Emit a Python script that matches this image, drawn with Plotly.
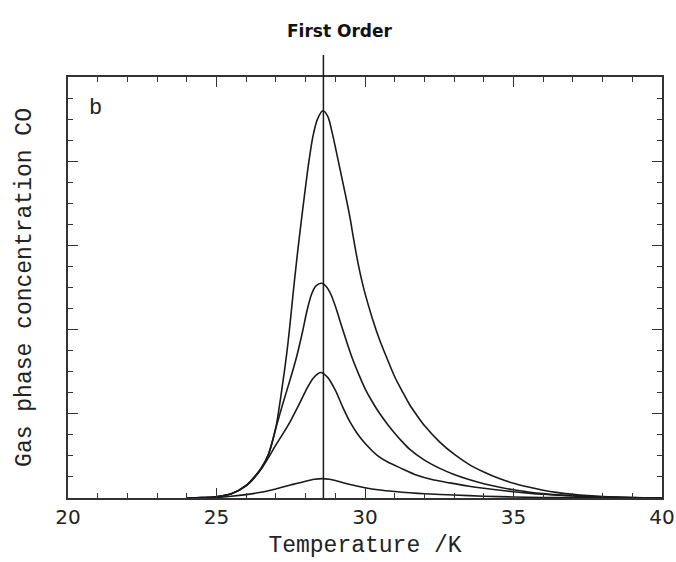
import plotly.graph_objects as go

# Temperature (K) and gas-phase CO concentration (arbitrary units) for the four curves
temp_top = [24.0, 24.5, 25.0, 25.5, 26.0, 26.25, 26.5, 26.75, 27.0, 27.1, 27.2, 27.3, 27.4, 27.5, 27.6,
            27.75, 27.9, 28.0, 28.1, 28.25, 28.4, 28.58, 28.75, 28.9, 29.0, 29.15, 29.33, 29.5, 29.6,
            29.7, 29.8, 29.9, 30.0, 30.25, 30.5, 30.75, 31.0, 31.25, 31.5, 31.75, 32.0, 32.5, 33.0,
            33.5, 34.0, 34.5, 35.0, 35.5, 36.0, 36.5, 37.0, 37.5, 38.0, 39.0, 40.0]
conc_top = [0.0, 0.005, 0.015, 0.05, 0.15, 0.24, 0.35, 0.52, 0.84, 1.05, 1.29, 1.54, 1.82, 2.15, 2.50,
            2.98, 3.42, 3.70, 3.97, 4.30, 4.50, 4.60, 4.53, 4.33, 4.17, 3.92, 3.62, 3.32, 3.11,
            2.91, 2.73, 2.57, 2.43, 2.13, 1.87, 1.65, 1.44, 1.27, 1.11, 0.98, 0.86, 0.67, 0.52,
            0.40, 0.31, 0.235, 0.175, 0.13, 0.092, 0.064, 0.043, 0.028, 0.017, 0.005, 0.0]

temp_second = [24.0, 24.5, 25.0, 25.5, 26.0, 26.25, 26.5, 26.75, 27.0, 27.25, 27.5, 27.7, 27.9, 28.05,
               28.2, 28.35, 28.55, 28.7, 28.85, 29.0, 29.25, 29.55, 29.8, 30.0, 30.25, 30.5, 30.75,
               31.0, 31.25, 31.5, 32.0, 32.5, 33.0, 33.5, 34.0, 34.5, 35.0, 35.5, 36.0, 36.5, 37.0,
               38.0, 40.0]
conc_second = [0.0, 0.005, 0.015, 0.05, 0.15, 0.24, 0.35, 0.52, 0.83, 1.14, 1.43, 1.68, 1.98, 2.23,
               2.42, 2.52, 2.55, 2.51, 2.42, 2.28, 2.00, 1.68, 1.46, 1.30, 1.14, 1.00, 0.88,
               0.77, 0.67, 0.58, 0.45, 0.355, 0.28, 0.22, 0.17, 0.13, 0.097, 0.072, 0.052, 0.037, 0.026,
               0.011, 0.0]

temp_third = [24.0, 24.5, 25.0, 25.5, 26.0, 26.25, 26.5, 26.75, 27.0, 27.25, 27.5, 27.75, 28.0, 28.25,
              28.5, 28.75, 29.0, 29.25, 29.5, 29.75, 30.0, 30.4, 30.75, 31.2, 31.75, 32.25, 32.85,
              33.5, 34.0, 34.55, 35.0, 35.5, 36.0, 37.0, 38.0, 40.0]
conc_third = [0.0, 0.005, 0.015, 0.05, 0.145, 0.23, 0.34, 0.48, 0.63, 0.77, 0.92, 1.09, 1.27, 1.42,
              1.49, 1.43, 1.28, 1.08, 0.90, 0.76, 0.65, 0.51, 0.43, 0.355, 0.27, 0.22, 0.18,
              0.14, 0.115, 0.092, 0.075, 0.058, 0.044, 0.024, 0.011, 0.0]

temp_fourth = [24.5, 25.0, 25.5, 26.0, 26.5, 27.0, 27.5, 28.0, 28.3, 28.55, 28.8, 29.0, 29.5, 30.0,
               30.5, 31.0, 31.5, 32.0, 33.0, 34.0, 35.0, 36.0, 37.0, 38.0, 40.0]
conc_fourth = [0.0, 0.006, 0.02, 0.04, 0.068, 0.108, 0.155, 0.20, 0.222, 0.23, 0.222, 0.208, 0.16,
               0.122, 0.095, 0.077, 0.062, 0.051, 0.035, 0.021, 0.012, 0.006, 0.003, 0.0, 0.0]

transition_temp = 28.6

x_tick_vals = [20, 25, 30, 35, 40]
x_tick_text = ["20", "25", "30", "35", "40"]

line_color = "#1a1a1a"
fig = go.Figure()
for xs, ys in [(temp_top, conc_top), (temp_second, conc_second),
               (temp_third, conc_third), (temp_fourth, conc_fourth)]:
    fig.add_trace(go.Scatter(x=xs, y=ys, mode="lines",
                             line=dict(color=line_color, width=1.6, shape="spline", smoothing=0.8),
                             showlegend=False, hoverinfo="skip"))

fig.add_shape(type="line", xref="x", yref="paper", x0=transition_temp, x1=transition_temp,
              y0=0, y1=1.052, line=dict(color=line_color, width=1.5), layer="above")

fig.add_annotation(text="First Order", xref="paper", yref="paper", x=0.458, y=1.11,
                   xanchor="center", yanchor="middle", showarrow=False,
                   font=dict(family="DejaVu Sans", size=17, color="#111", weight="bold"))
fig.add_annotation(text="b", xref="paper", yref="paper", x=0.046, y=0.925,
                   xanchor="center", yanchor="middle", showarrow=False,
                   font=dict(family="Liberation Mono", size=22, color="#222"))

axis_common = dict(showline=True, linecolor="#333", linewidth=1.6, mirror="ticks",
                   ticks="inside", tickcolor="#333", zeroline=False, showgrid=False, automargin=False)

fig.update_xaxes(range=[20, 40], tickvals=x_tick_vals, ticktext=x_tick_text, ticklen=10, tickwidth=1.3,
                 minor=dict(ticks="inside", dtick=1, ticklen=5, tickcolor="#333", tickwidth=1.2, showgrid=False),
                 tickfont=dict(family="DejaVu Sans", size=20, color="#222"),
                 title=dict(text="Temperature /K", font=dict(family="Liberation Mono", size=23, color="#222"),
                            standoff=8),
                 **axis_common)
fig.update_yaxes(range=[0, 5], dtick=1, ticklen=10, tickwidth=1.3, showticklabels=False,
                 minor=dict(ticks="inside", dtick=0.25, ticklen=5, tickcolor="#333", tickwidth=1.2, showgrid=False),
                 title=dict(text="Gas phase concentration CO",
                            font=dict(family="Liberation Mono", size=23, color="#222"), standoff=28),
                 **axis_common)

fig.update_layout(width=676, height=562, margin=dict(l=68, r=14, t=77, b=64),
                  plot_bgcolor="white", paper_bgcolor="white")

fig.write_html("out.html")
